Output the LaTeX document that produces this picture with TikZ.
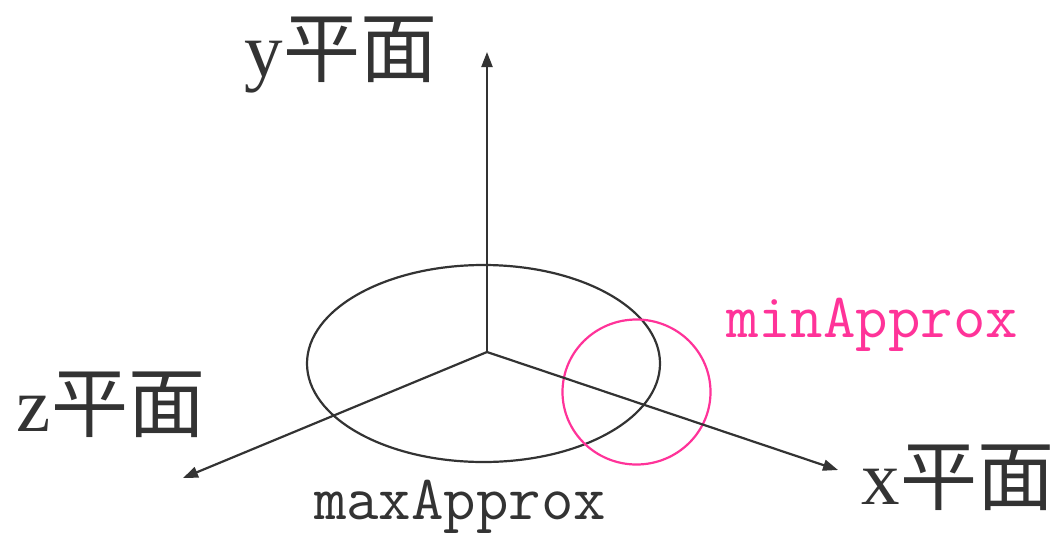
\documentclass[tikz,border=0pt]{standalone}
\usepackage{fontspec}
\newfontfamily\cjk{Noto Sans CJK SC}
\newfontfamily\latinser{Liberation Serif}
\usetikzlibrary{arrows.meta,shapes.geometric}
\definecolor{ink}{HTML}{333333}
\definecolor{pinkc}{HTML}{FF3399}
\begin{document}
\begin{tikzpicture}[x=1pt,y=-1pt,
  axis/.style={draw=ink,line width=2.2pt,-{Triangle[length=15pt,width=11pt]}},
  biglabel/.style={text=ink,font=\fontsize{77}{77}\selectfont,inner sep=0pt},
  codelabel/.style={font=\ttfamily\fontsize{63}{63}\selectfont,inner sep=0pt},
  ring/.style={ellipse,inner sep=0pt,line width=2.2pt}]
\useasboundingbox (0,0) rectangle (1059,533);
\coordinate (O) at (487,352);
\coordinate (ytip) at (487,52);
\coordinate (ztip) at (183,478);
\coordinate (xtip) at (838,470);
\node[ring,draw=ink,minimum width=353pt,minimum height=197pt] (big) at (483.5,363.5) {};
\node[ring,draw=pinkc,minimum width=148pt,minimum height=145pt] (small) at (636.5,392) {};
\draw[axis] (O) -- (ytip);
\draw[axis] (O) -- (ztip);
\draw[axis] (O) -- (xtip);
\node[biglabel] (ylab) at (341,55) {{\latinser y}{\cjk 平面}};
\node[biglabel] (zlab) at (111,405) {{\latinser z}{\cjk 平面}};
\node[biglabel] (xlab) at (958,478) {{\latinser x}{\cjk 平面}};
\node[codelabel,text=ink] (maxl) at (460,507) {maxApprox};
\node[codelabel,text=pinkc] (minl) at (872,325) {minApprox};
\end{tikzpicture}
\end{document}
